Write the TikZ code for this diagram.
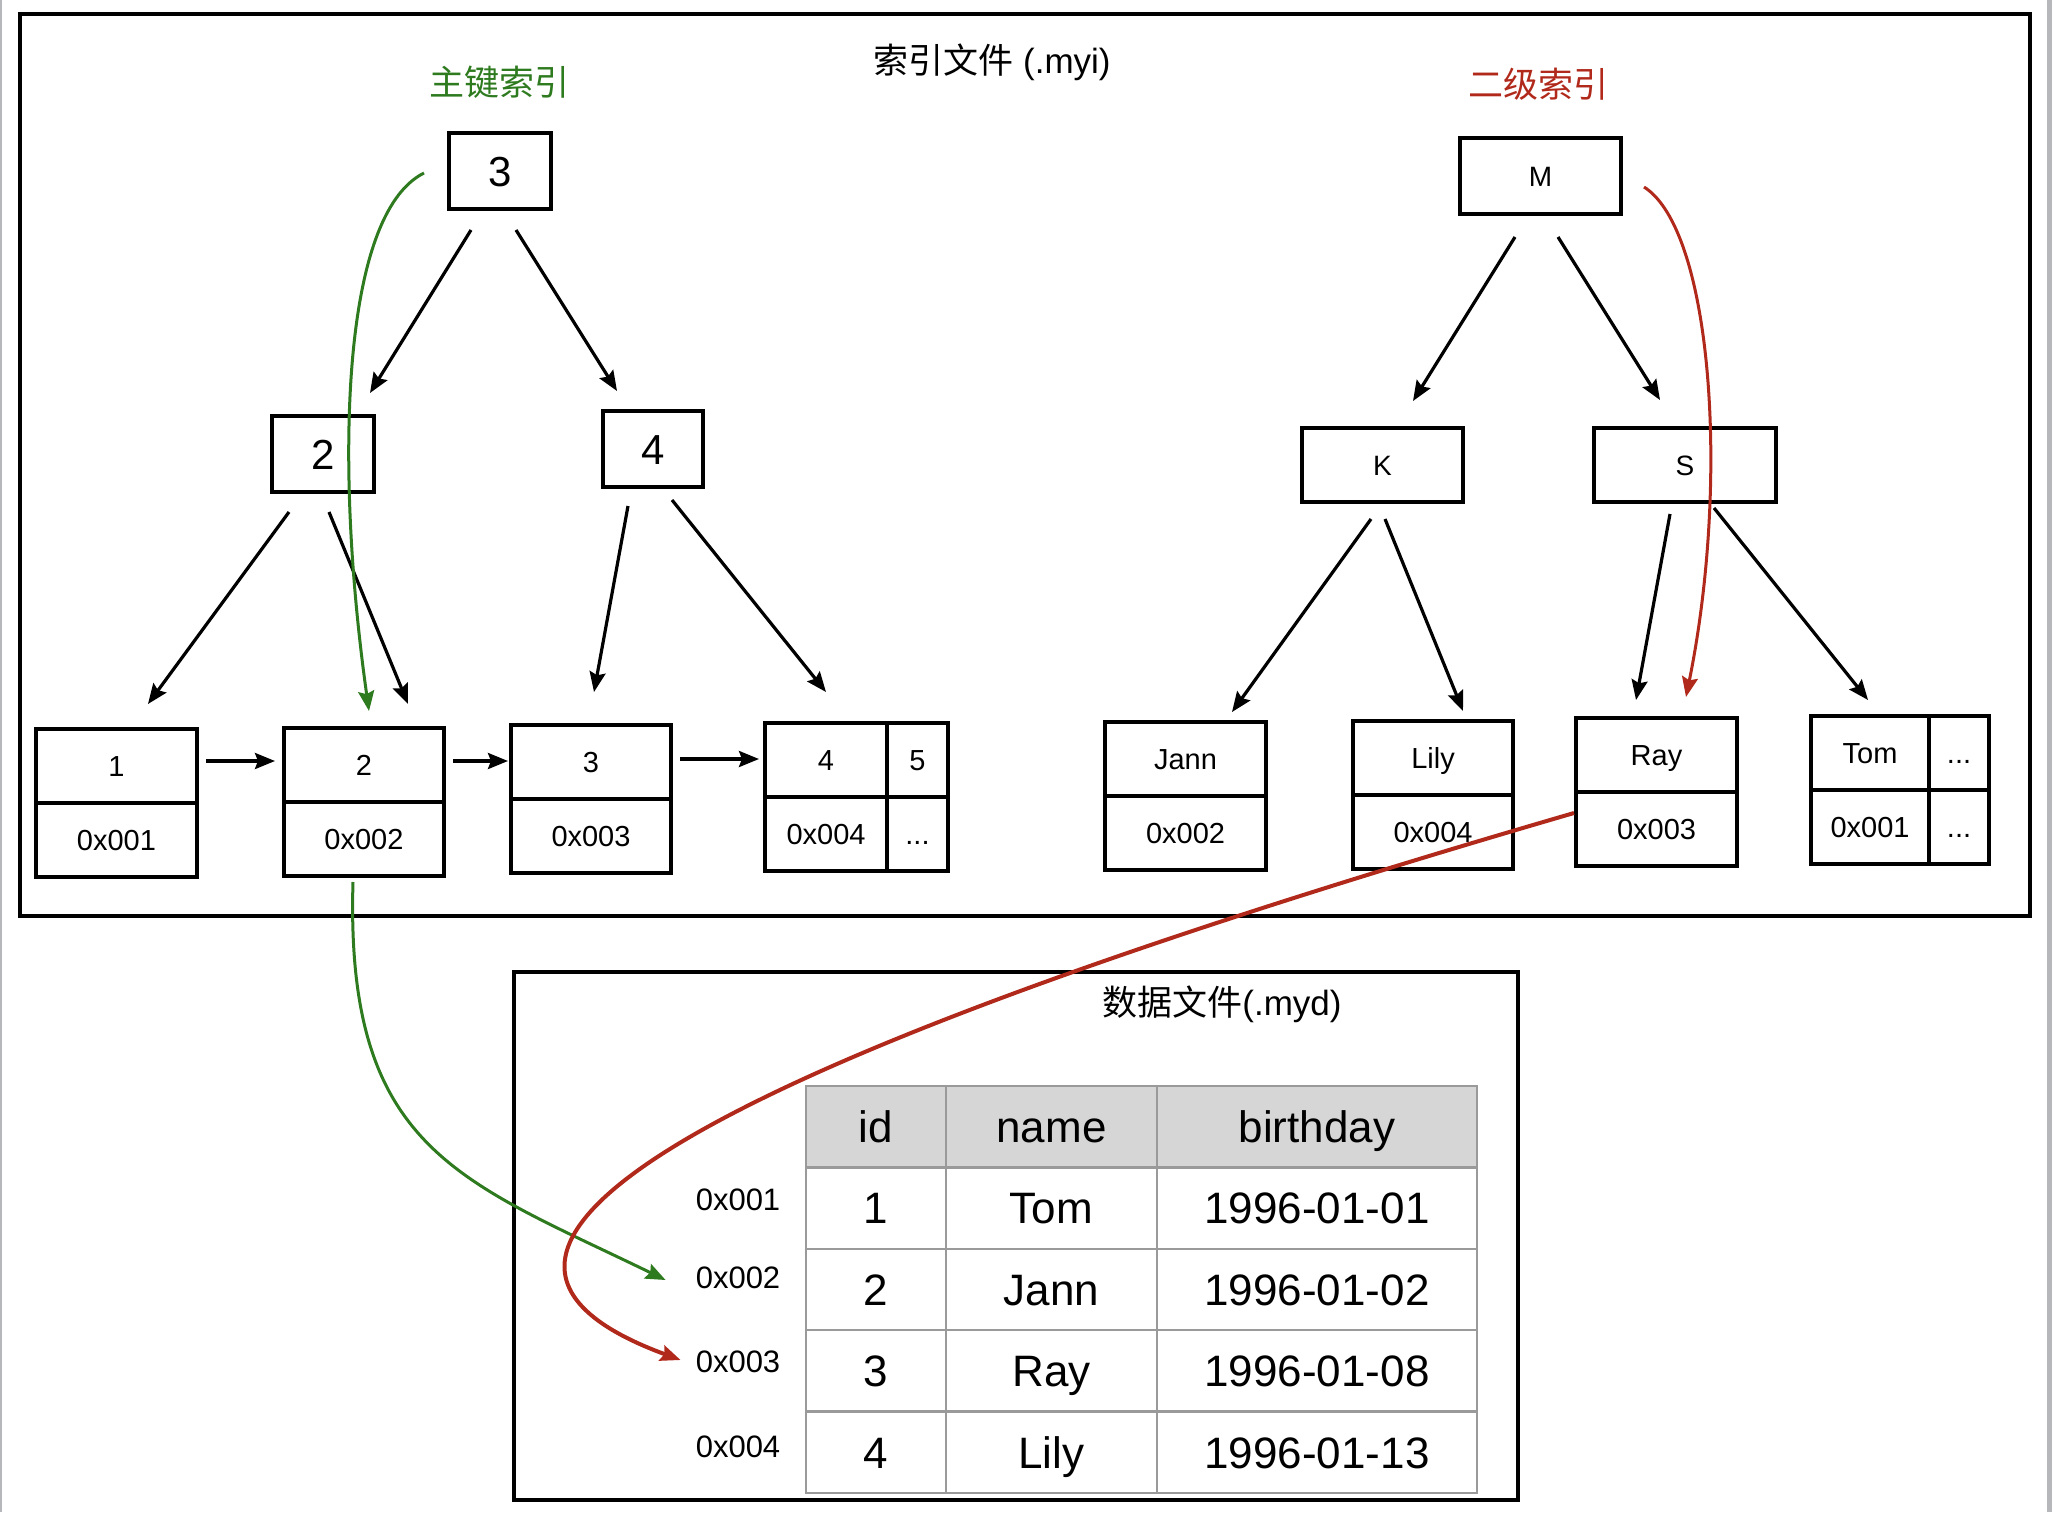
\documentclass[tikz,border=0pt]{standalone}
\usepackage{fontspec}
\setmainfont{Liberation Sans}
\newfontfamily\cjk{Noto Sans CJK SC}
\usetikzlibrary{arrows.meta,calc}
\definecolor{gr}{HTML}{2E7A1F}
\definecolor{rd}{HTML}{B0291B}
\definecolor{hdr}{HTML}{D6D6D6}
\definecolor{gridc}{HTML}{9A9A9A}
\definecolor{edgec}{HTML}{B5B7BB}
\begin{document}
\begin{tikzpicture}[x=1pt,y=-1pt,
  box/.style={draw, line width=4pt, inner sep=0pt, minimum height=76pt, text depth=0pt},
  tnode/.style={box, minimum width=102pt, text height=30pt, font=\fontsize{42}{44}\selectfont},
  lnode/.style={box, text height=20pt, font=\fontsize{28}{30}\selectfont},
  cell/.style={draw, line width=4pt, inner sep=0pt, minimum height=74pt, text height=21pt, text depth=0pt, font=\fontsize{29}{31}\selectfont},
  tcell/.style={draw=gridc, line width=2.5pt, inner sep=0pt, minimum height=81.4pt, text height=31.5pt, text depth=0pt, font=\fontsize{44}{48}\selectfont},
  hcell/.style={tcell, fill=hdr},
  addr/.style={inner sep=0pt, font=\fontsize{31}{33}\selectfont},
  ttl/.style={inner sep=0pt, font=\fontsize{35}{39}\selectfont},
  tip/.style={-{Stealth[length=20pt,width=16pt,inset=3pt]}},
  tarrow/.style={line width=3.2pt, tip},
  garrow/.style={draw=gr, line width=3pt, tip},
  rarrow/.style={draw=rd, line width=3pt, tip},
]
\useasboundingbox (0,0) rectangle (2052,1512);
\fill[edgec] (0,0) rectangle (2,1512);
\fill[edgec] (2047,0) rectangle (2052,1512);

% containers
\node[draw, line width=4.5pt, minimum width=2010pt, minimum height=902pt, inner sep=0pt] (myi) at (1024.8,465.2) {};
\node[draw, line width=4.5pt, minimum width=1004pt, minimum height=528pt, inner sep=0pt] (myd) at (1016,1236) {};

% titles
\node[ttl] (t1) at (992,62) {{\cjk 索引文件} (.myi)};
\node[ttl, text=gr] (pk) at (499,82) {\cjk 主键索引};
\node[ttl, text=rd] (sk) at (1538,84) {\cjk 二级索引};
\node[ttl] (t2) at (1222,1004) {{\cjk 数据文件}(.myd)};

% primary tree
\node[tnode] (n3) at (500,171) {3};
\node[tnode] (n2) at (323,454) {2};
\node[tnode, minimum width=100pt] (n4) at (653,449) {4};

\node[cell, minimum width=161pt] (l1k) at (116.5,766) {1};
\node[cell, minimum width=161pt] (l1a) at (116.5,840) {0x001};
\node[cell, minimum width=160pt] (l2k) at (364,765) {2};
\node[cell, minimum width=160pt] (l2a) at (364,839) {0x002};
\node[cell, minimum width=160pt] (l3k) at (591,762) {3};
\node[cell, minimum width=160pt] (l3a) at (591,836) {0x003};
\node[cell, minimum width=122pt] (l4k) at (826,760) {4};
\node[cell, minimum width=122pt] (l4a) at (826,834) {0x004};
\node[cell, minimum width=61pt] (l5k) at (917.5,760) {5};
\node[cell, minimum width=61pt] (l5a) at (917.5,834) {...};

% secondary tree
\node[lnode, minimum width=161pt] (nM) at (1540.5,176) {M};
\node[lnode, minimum width=161pt, minimum height=74pt] (nK) at (1382.5,465) {K};
\node[lnode, minimum width=182pt, minimum height=74pt] (nS) at (1685,465) {S};

\node[cell, minimum width=161pt] (jk) at (1185.5,759) {Jann};
\node[cell, minimum width=161pt] (ja) at (1185.5,833) {0x002};
\node[cell, minimum width=160pt] (yk) at (1433,758) {Lily};
\node[cell, minimum width=160pt] (ya) at (1433,832) {0x004};
\node[cell, minimum width=161pt] (rk) at (1656.5,755) {Ray};
\node[cell, minimum width=161pt] (ra) at (1656.5,829) {0x003};
\node[cell, minimum width=118pt] (tk) at (1870,753) {Tom};
\node[cell, minimum width=118pt] (ta) at (1870,827) {0x001};
\node[cell, minimum width=60pt] (ek) at (1959,753) {...};
\node[cell, minimum width=60pt] (ea) at (1959,827) {...};

% table
\node[hcell, minimum width=140pt] (h1) at (876,1126.7) {id};
\node[hcell, minimum width=211pt] (h2) at (1051.5,1126.7) {name};
\node[hcell, minimum width=320pt] (h3) at (1317,1126.7) {birthday};
\node[tcell, minimum width=140pt] (r11) at (876,1208.1) {1};
\node[tcell, minimum width=211pt] (r12) at (1051.5,1208.1) {Tom};
\node[tcell, minimum width=320pt] (r13) at (1317,1208.1) {1996-01-01};
\node[tcell, minimum width=140pt] (r21) at (876,1289.5) {2};
\node[tcell, minimum width=211pt] (r22) at (1051.5,1289.5) {Jann};
\node[tcell, minimum width=320pt] (r23) at (1317,1289.5) {1996-01-02};
\node[tcell, minimum width=140pt] (r31) at (876,1370.9) {3};
\node[tcell, minimum width=211pt] (r32) at (1051.5,1370.9) {Ray};
\node[tcell, minimum width=320pt] (r33) at (1317,1370.9) {1996-01-08};
\node[tcell, minimum width=140pt] (r41) at (876,1452.3) {4};
\node[tcell, minimum width=211pt] (r42) at (1051.5,1452.3) {Lily};
\node[tcell, minimum width=320pt] (r43) at (1317,1452.3) {1996-01-13};

\node[addr] (a1) at (738,1200) {0x001};
\node[addr] (a2) at (738,1278) {0x002};
\node[addr] (a3) at (738,1362) {0x003};
\node[addr] (a4) at (738,1447) {0x004};

% tree arrows
\draw[tarrow] ($(n3.south)+(-29,19)$) -- ($(n2.north)+(47,-21)$);
\draw[tarrow] ($(n3.south)+(16,19)$) -- ($(n4.north)+(-36,-18)$);
\draw[tarrow] ($(n2.south)+(-34,18)$) -- ($(l1k.north)+(31.5,-23)$);
\draw[tarrow] ($(n2.south)+(6,18)$) -- ($(l2k.north)+(44,-22)$);
\draw[tarrow] ($(n4.south)+(-25,17)$) -- ($(l3k.north)+(3,-31)$);
\draw[tarrow] ($(n4.south)+(19,11)$) -- ($(l4k.north)+(0,-29)$);
\draw[tarrow] ($(nM.south)+(-25.5,21)$) -- ($(nK.north)+(30.5,-25)$);
\draw[tarrow] ($(nM.south)+(17.5,21)$) -- ($(nS.north)+(-25,-26)$);
\draw[tarrow] ($(nK.south)+(-11.5,15)$) -- ($(jk.north)+(46.5,-8)$);
\draw[tarrow] ($(nK.south)+(2.5,15)$) -- ($(yk.north)+(30,-8)$);
\draw[tarrow] ($(nS.south)+(-15,10)$) -- ($(rk.north)+(-20.5,-16)$);
\draw[tarrow] ($(nS.south)+(29,4)$) -- ($(tk.north)+(-2,-14)$);

% leaf chain
\draw[tarrow] ($(l1k.east)+(7,-5)$) -- ($(l2k.west)+(-7,-4)$);
\draw[tarrow] ($(l2k.east)+(7,-4)$) -- ($(l3k.west)+(-1,-1)$);
\draw[tarrow] ($(l3k.east)+(7,-3)$) -- ($(l4k.west)+(-4,-1)$);

% green lookups
\draw[garrow] ($(n3.west)+(-23,2)$) .. controls (340,215) and (335,470) .. ($(l2k.north)+(5,-15)$);
\draw[garrow] ($(l2a.south)+(-11,4)$) .. controls (345,1150) and (460,1180) .. ($(a2.west)+(-30,2)$);

% red lookups
\draw[rarrow] ($(nM.east)+(21,11)$) .. controls (1712,230) and (1730,480) .. ($(rk.north)+(29.5,-19)$);
\draw[rarrow, line width=4pt] ($(ra.west)+(0,-16)$) .. controls (1000,980) and (300,1220) .. ($(a3.west)+(-15,-2)$);
\end{tikzpicture}
\end{document}
